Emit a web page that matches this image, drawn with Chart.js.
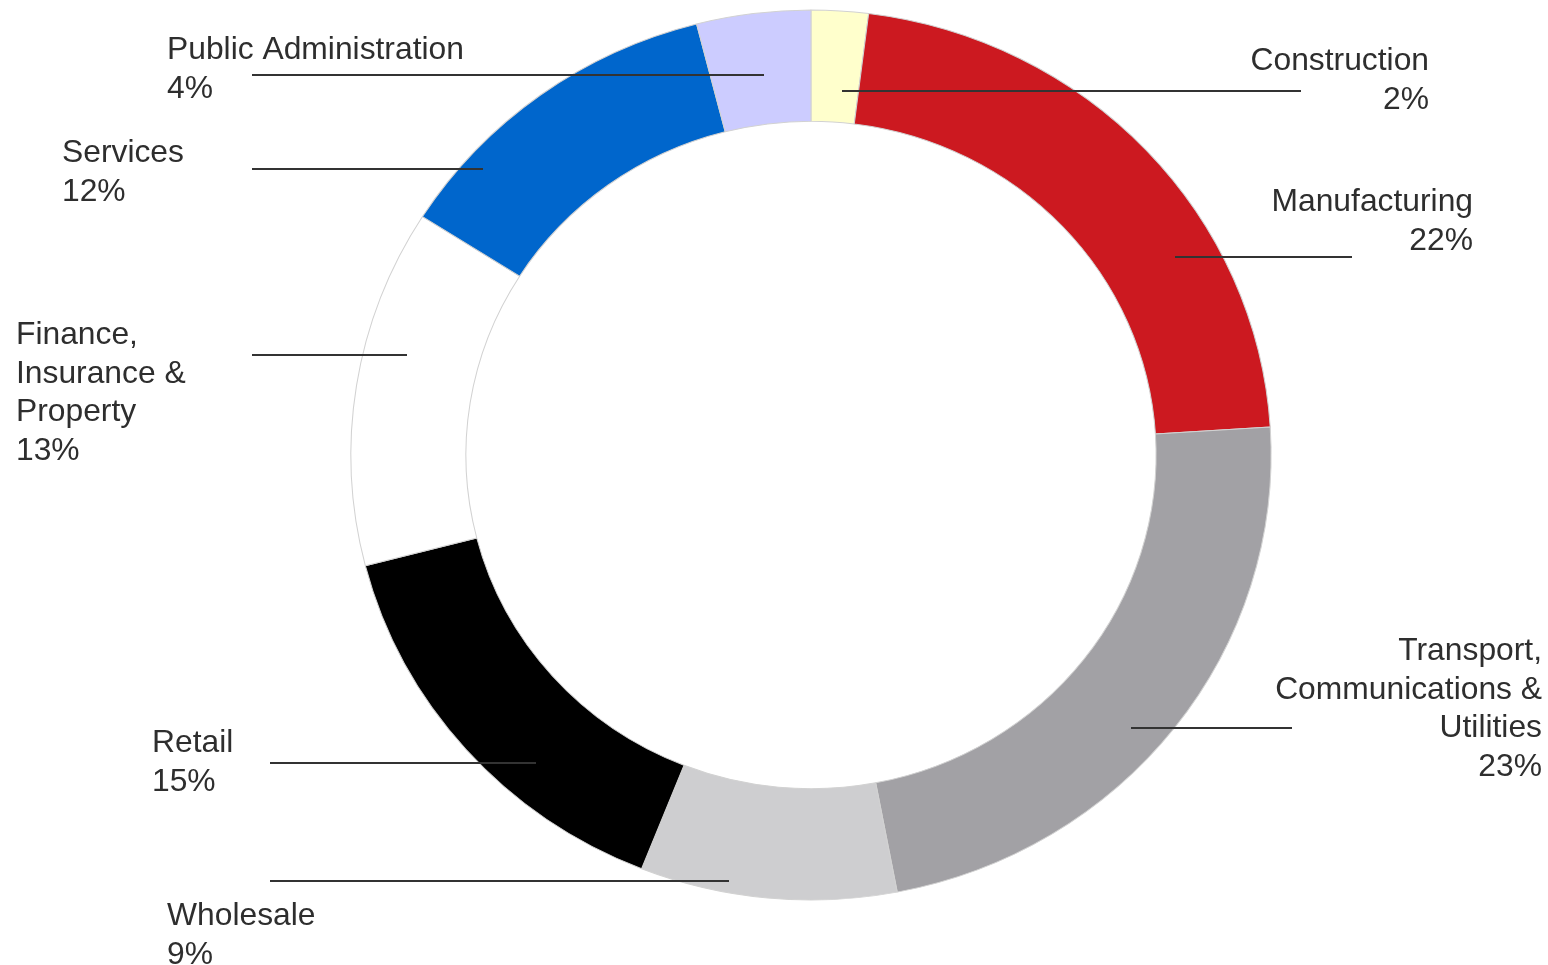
<!DOCTYPE html>
<html>
<head>
<meta charset="utf-8">
<title>Employment by Industry</title>
<script src="https://cdn.jsdelivr.net/npm/chart.js@4/dist/chart.umd.min.js"></script>
<style>
  html, body { margin: 0; padding: 0; background: #ffffff; }
  #wrap { position: relative; width: 1548px; height: 965px; }
</style>
</head>
<body>
<div id="wrap"><canvas id="chart"></canvas></div>
<script>
// Industry categories (each label is split into the lines it is printed on)
const categories = [
  ['Construction'],
  ['Manufacturing'],
  ['Transport,', 'Communications &', 'Utilities'],
  ['Wholesale'],
  ['Retail'],
  ['Finance,', 'Insurance &', 'Property'],
  ['Services'],
  ['Public Administration']
];

// Share of employment, percent
const shares = [2, 22, 23, 9, 15, 13, 12, 4];

// Slice colours, in category order
const sliceColors = [
  '#FFFFCC', '#CC1920', '#A2A1A5', '#CECED0',
  '#000000', '#FFFFFF', '#0066CC', '#CCCCFF'
];

// Where each callout sits: text anchor, first baseline, and its leader line
const calloutLayout = [
  { align: 'right', x: 1429, y: 70,  lineY: 91,  x0: 842,  x1: 1301 },
  { align: 'right', x: 1473, y: 211, lineY: 257, x0: 1175, x1: 1352 },
  { align: 'right', x: 1542, y: 660, lineY: 728, x0: 1131, x1: 1292 },
  { align: 'left',  x: 167,  y: 925, lineY: 881, x0: 270,  x1: 729 },
  { align: 'left',  x: 152,  y: 752, lineY: 763, x0: 270,  x1: 536 },
  { align: 'left',  x: 16,   y: 344, lineY: 355, x0: 252,  x1: 407 },
  { align: 'left',  x: 62,   y: 162, lineY: 169, x0: 252,  x1: 483 },
  { align: 'left',  x: 167,  y: 59,  lineY: 75,  x0: 252,  x1: 764 }
];

const LINE_HEIGHT = 38.5;
const RING_STRETCH_X = 1.034; // ring is drawn slightly wider than tall

// Stretch the ring horizontally about its own centre
const ringStretch = {
  id: 'ringStretch',
  beforeDatasetsDraw(chart) {
    const arc = chart.getDatasetMeta(0).data[0];
    const ctx = chart.ctx;
    ctx.save();
    ctx.translate(arc.x, arc.y);
    ctx.scale(RING_STRETCH_X, 1);
    ctx.translate(-arc.x, -arc.y);
  },
  afterDatasetsDraw(chart) {
    chart.ctx.restore();
  }
};

// Category names with their percentages, joined to the ring by leader lines
const callouts = {
  id: 'callouts',
  afterDraw(chart) {
    const ctx = chart.ctx;
    ctx.save();
    ctx.strokeStyle = '#333333';
    ctx.lineWidth = 1.8;
    calloutLayout.forEach((c) => {
      ctx.beginPath();
      ctx.moveTo(c.x0, c.lineY);
      ctx.lineTo(c.x1, c.lineY);
      ctx.stroke();
    });
    ctx.fillStyle = '#2e2e2e';
    ctx.font = '31.8px "Liberation Sans", Arial, sans-serif';
    ctx.textBaseline = 'alphabetic';
    categories.forEach((lines, i) => {
      const c = calloutLayout[i];
      ctx.textAlign = c.align;
      const text = lines.concat([shares[i] + '%']);
      text.forEach((t, k) => ctx.fillText(t, c.x, c.y + k * LINE_HEIGHT));
    });
    ctx.restore();
  }
};

new Chart(document.getElementById('chart'), {
  type: 'doughnut',
  data: {
    labels: categories.map((l) => l.join(' ')),
    datasets: [{
      data: shares,
      backgroundColor: sliceColors,
      borderColor: '#D2D2D2',
      borderWidth: 1,
      hoverOffset: 0
    }]
  },
  options: {
    responsive: true,
    maintainAspectRatio: false,
    animation: false,
    cutout: '75%',
    radius: 445,
    rotation: 0,
    layout: { padding: { left: 74, right: 0, top: 10, bottom: 65 } },
    plugins: {
      legend: { display: false },
      tooltip: { enabled: false }
    }
  },
  plugins: [ringStretch, callouts]
});
</script>
</body>
</html>
